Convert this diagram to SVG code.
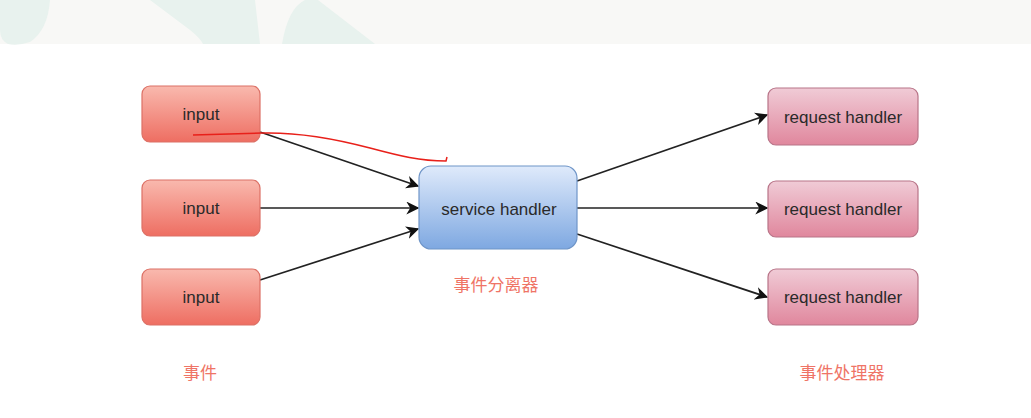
<svg xmlns="http://www.w3.org/2000/svg" width="1031" height="418" viewBox="0 0 1031 418">
<defs>
<linearGradient id="gIn" x1="0" y1="0" x2="0" y2="1"><stop offset="0" stop-color="#f9b9ae"/><stop offset="1" stop-color="#ee6e62"/></linearGradient>
<linearGradient id="gSv" x1="0" y1="0" x2="0" y2="1"><stop offset="0" stop-color="#dfeafb"/><stop offset="1" stop-color="#7ea8e1"/></linearGradient>
<linearGradient id="gRq" x1="0" y1="0" x2="0" y2="1"><stop offset="0" stop-color="#f0cbd6"/><stop offset="1" stop-color="#e0879d"/></linearGradient>
<marker id="arr" viewBox="0 0 10 10" refX="9" refY="5" markerWidth="13" markerHeight="13" markerUnits="userSpaceOnUse" orient="auto"><path d="M0,0 L10,5 L0,10 L3,5 Z" fill="#111"/></marker>
<style>
.in{fill:url(#gIn);stroke:#dc7166;stroke-width:1.2}
.sv{fill:url(#gSv);stroke:#6f95c8;stroke-width:1.2}
.rq{fill:url(#gRq);stroke:#b87488;stroke-width:1.2}
.t{font-family:"Liberation Sans",Arial,sans-serif;font-size:17px;fill:#2a2a2a;text-anchor:middle}
.cn{font-family:"Noto Sans CJK SC","Noto Sans",sans-serif;font-size:17px;fill:#ef7466;text-anchor:middle}
.c{stroke:#222;stroke-width:1.7;fill:none;marker-end:url(#arr)}
</style>
</defs>
<rect width="1031" height="418" fill="#ffffff"/>
<g id="bg">
<rect x="0" y="0" width="1031" height="44" fill="#f8f8f6"/>
<path d="M0,0 L50,0 Q48,30 30,42 Q18,46 8,44 Q0,40 0,30 Z" fill="#e8f2ee"/>
<path d="M150,0 L255,0 L260,44 L203,44 Q200,38 190,30 Z" fill="#e8f2ee"/>
<path d="M282,44 Q288,8 305,0 L318,0 L375,44 Z" fill="#e8f2ee"/>
</g>
<g id="connectors">
<line class="c" x1="260" y1="132" x2="418" y2="186"/>
<line class="c" x1="260" y1="208" x2="418" y2="208"/>
<line class="c" x1="260" y1="280" x2="418" y2="229"/>
<line class="c" x1="577" y1="181" x2="767" y2="115"/>
<line class="c" x1="577" y1="208" x2="767" y2="208"/>
<line class="c" x1="577" y1="234" x2="767" y2="297"/>
</g>
<g id="input1"><rect class="in" x="142" y="86" width="118" height="56" rx="8"/><text class="t" x="201" y="120">input</text></g>
<g id="input2"><rect class="in" x="142" y="180" width="118" height="56" rx="8"/><text class="t" x="201" y="214">input</text></g>
<g id="input3"><rect class="in" x="142" y="269" width="118" height="56" rx="8"/><text class="t" x="201" y="303">input</text></g>
<g id="service"><rect class="sv" x="419" y="166" width="158" height="83" rx="12"/><text class="t" x="499" y="215">service handler</text></g>
<g id="rh1"><rect class="rq" x="768" y="88" width="150" height="57" rx="8"/><text class="t" x="843" y="123">request handler</text></g>
<g id="rh2"><rect class="rq" x="768" y="181" width="150" height="56" rx="8"/><text class="t" x="843" y="215">request handler</text></g>
<g id="rh3"><rect class="rq" x="768" y="269" width="150" height="56" rx="8"/><text class="t" x="843" y="303">request handler</text></g>
<g id="labels">
<text class="cn" x="200" y="379">事件</text>
<text class="cn" x="496" y="291">事件分离器</text>
<text class="cn" x="842" y="379">事件处理器</text>
</g>
<path id="scribble" d="M193,135 L262,133 C300,132 340,140 370,148 C400,156 420,161 446,161 L447,157" fill="none" stroke="#e8201a" stroke-width="1.5"/>
</svg>
